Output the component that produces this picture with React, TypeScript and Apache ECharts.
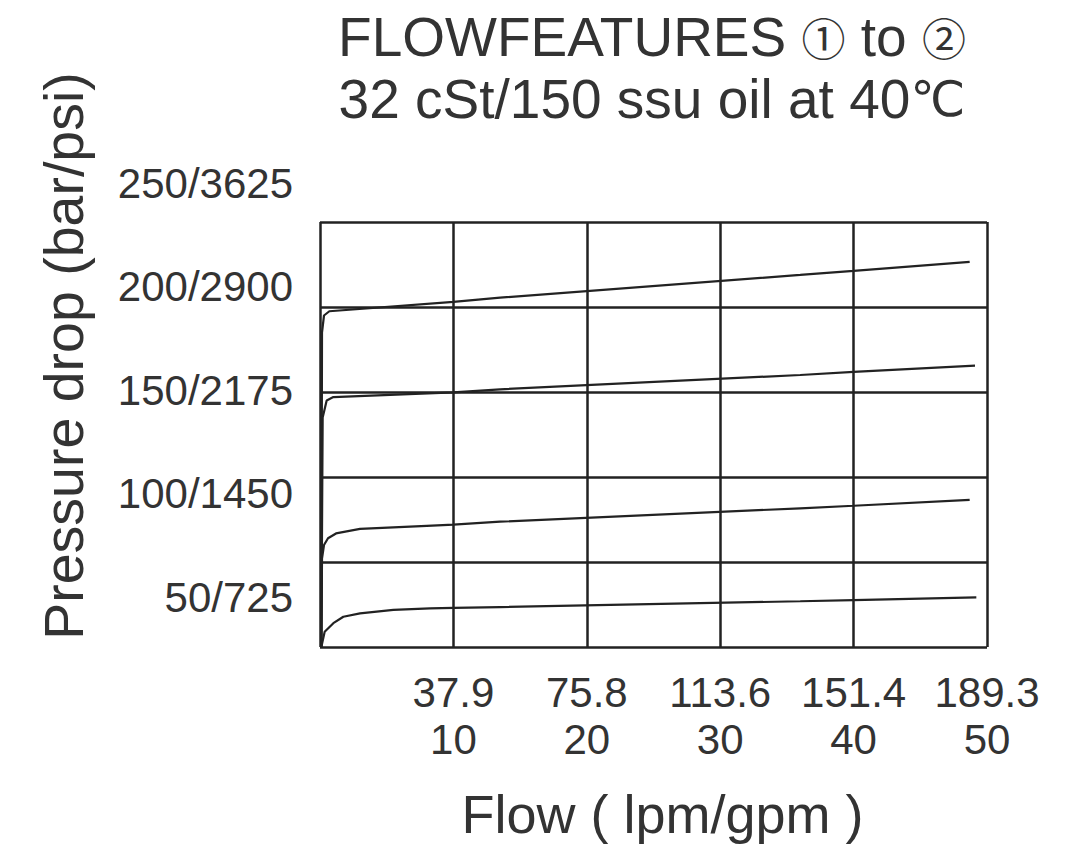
import React, { useEffect, useRef } from 'react';
import * as echarts from 'echarts';

const FONT = '"Liberation Sans", Arial, Helvetica, sans-serif';
const CJK = '"Noto Sans CJK SC", "Noto Sans CJK JP", sans-serif';
const DEJAVU = '"DejaVu Sans", sans-serif';
const TEXT = '#333333';
const INK = '#222222';

const titleLine1 = ['FLOWFEATURES ', '①', ' to ', '②'];
const titleLine2 = ['32 cSt/150 ssu oil at 40', '℃'];
const xAxisTitle = 'Flow ( lpm/gpm )';
const yAxisTitle = 'Pressure drop (bar/psi)';

const flowGpmTicks = [10, 20, 30, 40, 50];
const flowLpmTicks = ['37.9', '75.8', '113.6', '151.4', '189.3'];
const pressureBarTicks = [50, 100, 150, 200, 250];
const pressurePsiTicks = [725, 1450, 2175, 2900, 3625];

// [flow gpm, pressure drop bar]
const curve1 = [[0.1, 0], [0.15, 185], [0.3, 195], [0.7, 197.5], [10, 203], [13.5, 205.5], [36, 218.9], [40, 221.3], [48.7, 226.6]];
const curve2 = [[0.1, 0], [0.2, 135], [0.5, 145], [1, 147], [10, 149.8], [13.5, 151.6], [36, 160], [40, 161.8], [49.1, 165.5]];
const curve3 = [[0.1, 0], [0.15, 52], [0.3, 60], [0.6, 64], [1.2, 66.8], [3, 69.5], [8, 71.3], [10, 72], [13.5, 73.7], [36, 81.6], [40, 83.1], [48.7, 86.5]];
const curve4 = [[0.1, 0], [0.35, 9], [1, 14], [1.75, 17.8], [3, 19.8], [5.5, 21.8], [8.25, 22.7], [10, 23], [13.5, 23.5], [36, 26.9], [40, 27.6], [49.2, 29.2]];
const curves = [curve1, curve2, curve3, curve4];

const styleOf = (s: string) => (s === '①' || s === '②' ? 'c' : s === '℃' ? 'd' : 'a');
const richLine = (parts: string[]) => parts.map((p) => `{${styleOf(p)}|${p}}`).join('');

export default function App() {
  const ref = useRef<HTMLDivElement>(null);
  useEffect(() => {
    if (!ref.current) return;
    const chart = echarts.init(ref.current, undefined, { renderer: 'svg' });
    chart.setOption({
      animation: false,
      backgroundColor: '#ffffff',
      textStyle: { fontFamily: FONT },
      title: {
        text: richLine(titleLine1) + '\n' + richLine(titleLine2),
        left: 647,
        top: 1,
        padding: 5,
        textAlign: 'center',
        textStyle: {
          fontFamily: FONT,
          fontSize: 55,
          fontWeight: 'normal',
          color: TEXT,
          lineHeight: 62,
          rich: {
            a: { fontFamily: FONT, fontSize: 55, color: TEXT, lineHeight: 62 },
            c: { fontFamily: CJK, fontSize: 44, color: TEXT, lineHeight: 44 },
            d: { fontFamily: DEJAVU, fontSize: 49, color: TEXT, lineHeight: 49 },
          },
        },
      },
      grid: [
        { left: 320, top: 222, width: 667, height: 425 },
        { left: 320, top: 183, width: 667, height: 414 },
      ],
      xAxis: [
        {
          gridIndex: 0,
          type: 'value',
          min: 0,
          max: 50,
          interval: 10,
          axisLine: { show: false },
          axisTick: { show: false },
          splitLine: { show: true, lineStyle: { color: INK, width: 2.5 } },
          axisLabel: {
            margin: 22,
            fontSize: 42,
            lineHeight: 47,
            color: TEXT,
            fontFamily: FONT,
            formatter: (v: number) => {
              const i = flowGpmTicks.indexOf(v);
              return i < 0 ? '' : flowLpmTicks[i] + '\n' + flowGpmTicks[i];
            },
          },
          name: xAxisTitle,
          nameLocation: 'middle',
          nameGap: 140,
          nameTextStyle: { fontSize: 54, color: TEXT, fontFamily: FONT, padding: [0, 0, 0, 18] },
        },
        { gridIndex: 1, type: 'value', min: 0, max: 50, show: false },
      ],
      yAxis: [
        {
          gridIndex: 0,
          type: 'value',
          min: 0,
          max: 250,
          interval: 50,
          axisLine: { show: false },
          axisTick: { show: false },
          axisLabel: { show: false },
          splitLine: { show: true, lineStyle: { color: INK, width: 2.5 } },
          name: yAxisTitle,
          nameLocation: 'middle',
          nameGap: 228,
          nameRotate: 90,
          nameTextStyle: { fontSize: 55.5, color: TEXT, fontFamily: FONT, padding: [0, 0, 0, 157] },
        },
        {
          gridIndex: 1,
          type: 'value',
          min: 50,
          max: 250,
          interval: 50,
          axisLine: { show: false },
          axisTick: { show: false },
          splitLine: { show: false },
          axisLabel: {
            margin: 27,
            fontSize: 42,
            color: TEXT,
            fontFamily: FONT,
            formatter: (v: number) => {
              const i = pressureBarTicks.indexOf(v);
              return i < 0 ? '' : pressureBarTicks[i] + '/' + pressurePsiTicks[i];
            },
          },
        },
      ],
      series: curves.map((c) => ({
        type: 'line',
        xAxisIndex: 0,
        yAxisIndex: 0,
        data: c,
        showSymbol: false,
        symbol: 'none',
        lineStyle: { color: INK, width: 2.2 },
        silent: true,
      })),
    });
    return () => chart.dispose();
  }, []);
  return (
    <div
      ref={ref}
      style={{ position: 'fixed', left: 0, top: 0, width: 1070, height: 851, background: '#fff' }}
    />
  );
}
